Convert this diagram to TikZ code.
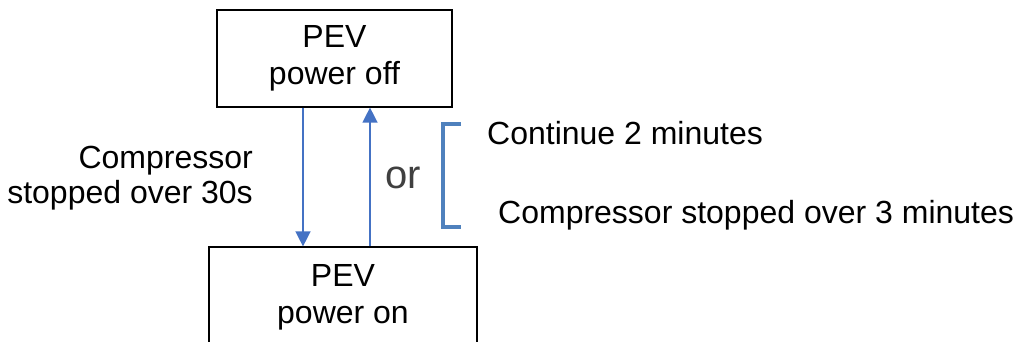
\documentclass[tikz,border=0pt]{standalone}
\usepackage{fontspec}
\setmainfont{Liberation Sans}
\usepackage{tikz}
\usetikzlibrary{arrows.meta,positioning}

\definecolor{flowblue}{HTML}{4472C4}
\definecolor{brackblue}{HTML}{4F81BD}

\begin{document}
\begin{tikzpicture}[
	x=1pt, y=1pt,
	state/.style={
		draw,
		line width=1.2pt,
		align=center,
		inner sep=0pt,
		font=\fontsize{32}{37}\selectfont
	},
	flow/.style={
		draw=flowblue,
		line width=1.4pt,
		-{Triangle[length=15pt,width=15pt]}
	},
	txt/.style={
		align=right,
		inner sep=0pt,
		font=\fontsize{32}{35}\selectfont
	}
	]
	
	\useasboundingbox (0,0) rectangle (1023,341);
	\clip (0,0) rectangle (1023,341);
	
	% states
	\node[state, minimum width=235pt, minimum height=97pt] (off) at (334.5,282.5) {PEV\\power off};
	\node[state, minimum width=268pt, minimum height=100pt] (on) at (343,44) {PEV\\power on};
	
	% transitions
	\draw[flow] ([xshift=-31.5pt]off.south) -- ([xshift=-40pt]on.north);
	\draw[flow] ([xshift=27pt]on.north) -- ([xshift=35.5pt]off.south);
	
	% labels
	\node[txt, anchor=east] (down) at (253,163) {Compressor\\stopped over 30s};
	\node[inner sep=0pt, text=black!75, font=\fontsize{40}{40}\selectfont] (or) at (403,163) {or};
	
	\coordinate (btop) at (443,217);
	\coordinate (bbot) at (443,114);
	\draw[brackblue, line width=4pt] ([xshift=18pt]btop) -- (btop) -- (bbot) -- ([xshift=18pt]bbot);
	
	\node[txt, anchor=west] (cont) at (487,208) {Continue 2 minutes};
	\node[txt, anchor=west] (stop) at (498,126) {Compressor stopped over 3 minutes};
	
\end{tikzpicture}
\end{document}
